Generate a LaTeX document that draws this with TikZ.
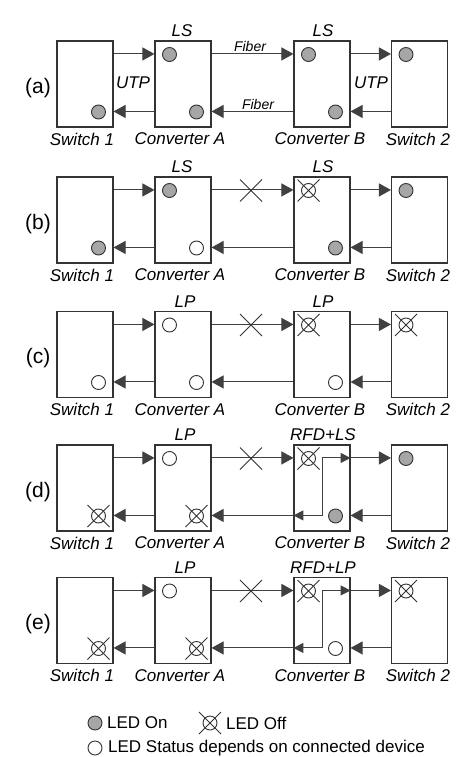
\documentclass[tikz,border=0pt]{standalone}
\usepackage{fontspec}
\setmainfont{Liberation Sans}
\usetikzlibrary{arrows.meta,calc}
\tikzset{
 box/.style={draw=black!80, line width=1.1pt, minimum width=56pt, minimum height=86pt, inner sep=0pt, fill=white},
 arr/.style={draw=black!75, line width=1pt, -{Triangle[length=12pt,width=13pt]}},
 inarr/.style={draw=black!75, line width=1pt, {Triangle[length=10pt,width=10pt]}-{Triangle[length=10pt,width=10pt]}},
 ledon/.style={circle, draw=black!80, line width=0.9pt, fill=black!35, minimum size=14pt, inner sep=0pt},
 ledst/.style={circle, draw=black!80, line width=0.9pt, fill=white, minimum size=14pt, inner sep=0pt},
 lbl/.style={font=\fontsize{17}{17}\selectfont\itshape, inner sep=0pt},
 sml/.style={font=\fontsize{14}{14}\selectfont\itshape, inner sep=0pt},
 plbl/.style={font=\fontsize{21}{21}\selectfont, inner sep=0pt},
 leg/.style={font=\fontsize{17}{17}\selectfont, anchor=west, inner sep=0pt},
 xline/.style={draw=black!80, line width=0.8pt},
 ledoff/.pic={\node[ledst] (-c) {}; \draw[xline] (-11,-11) -- (11,11) (-11,11) -- (11,-11);}
}
% #1 id, #2 top, #3 letter
\newcommand\mkpanel[3]{%
 \node[box] (s1#1) at (85,#2+43) {};
 \node[box] (ca#1) at (183,#2+43) {};
 \node[box] (cb#1) at (322,#2+43) {};
 \node[box] (s2#1) at (419.5,#2+43) {};
 \node[plbl] (p#1) at (38,#2+47) {(#3)};
 \node[lbl] (n1#1) at (82,#2+98) {Switch 1};
 \node[lbl] (n2#1) at (180,#2+98) {Converter A};
 \node[lbl] (n3#1) at (320,#2+98) {Converter B};
 \node[lbl] (n4#1) at (418,#2+98) {Switch 2};
 \draw[arr] ($(s1#1.north east)+(0,13.5)$) -- ($(ca#1.north west)+(0,13.5)$);
 \draw[arr] ($(ca#1.north east)+(0,13.5)$) -- ($(cb#1.north west)+(0,13.5)$);
 \draw[arr] ($(cb#1.north east)+(0,13.5)$) -- ($(s2#1.north west)+(0,13.5)$);
 \draw[arr] ($(ca#1.north west)+(0,71)$) -- ($(s1#1.north east)+(0,71)$);
 \draw[arr] ($(cb#1.north west)+(0,71)$) -- ($(ca#1.north east)+(0,71)$);
 \draw[arr] ($(s2#1.north west)+(0,71)$) -- ($(cb#1.north east)+(0,71)$);
}
\newcommand\brk[1]{\draw[xline] (240,#1+2.5) -- (262,#1+24.5) (240,#1+24.5) -- (262,#1+2.5);}
\newcommand\rfd[1]{\draw[inarr] ($(cb#1.north west)+(0,71)$) -| ($(cb#1.north)+(0,13.5)$) -- ($(cb#1.north east)+(0,13.5)$);}
\begin{document}
\begin{tikzpicture}[x=1pt,y=-1pt]
\useasboundingbox[fill=white] (0,0) rectangle (458,757);
% (a)
\mkpanel{a}{41}{a}
\node[ledon] (a1) at (98.5,112) {};
\node[ledon] (a2) at (169.5,54.5) {};
\node[ledon] (a3) at (196.5,112) {};
\node[ledon] (a4) at (308.5,54.5) {};
\node[ledon] (a5) at (335.5,112) {};
\node[ledon] (a6) at (406,54.5) {};
\node[lbl] (ta1) at (182,31) {LS};
\node[lbl] (ta2) at (323,31) {LS};
\node[sml] (fa1) at (250,46) {Fiber};
\node[sml] (fa2) at (258,104) {Fiber};
\node[lbl] (ua1) at (133,83) {UTP};
\node[lbl] (ua2) at (371,83) {UTP};
% (b)
\mkpanel{b}{177}{b}
\brk{177}
\node[ledon] (b1) at (98.5,248) {};
\node[ledon] (b2) at (169.5,190.5) {};
\node[ledst] (b3) at (196.5,248) {};
\pic (b4) at (308.5,190.5) {ledoff};
\node[ledon] (b5) at (335.5,248) {};
\node[ledon] (b6) at (406,190.5) {};
\node[lbl] (tb1) at (182,167) {LS};
\node[lbl] (tb2) at (323,167) {LS};
% (c)
\mkpanel{c}{311.5}{c}
\brk{311.5}
\node[ledst] (c1) at (98.5,382.5) {};
\node[ledst] (c2) at (169.5,325) {};
\node[ledst] (c3) at (196.5,382.5) {};
\pic (c4) at (308.5,325) {ledoff};
\node[ledst] (c5) at (335.5,382.5) {};
\pic (c6) at (406,325) {ledoff};
\node[lbl] (tc1) at (185,301.5) {LP};
\node[lbl] (tc2) at (323,301.5) {LP};
% (d)
\mkpanel{d}{445}{d}
\brk{445}
\rfd{d}
\pic (d1) at (98.5,516) {ledoff};
\node[ledst] (d2) at (169.5,458.5) {};
\pic (d3) at (196.5,516) {ledoff};
\pic (d4) at (308.5,458.5) {ledoff};
\node[ledon] (d5) at (335.5,516) {};
\node[ledon] (d6) at (406,458.5) {};
\node[lbl] (td1) at (185,435) {LP};
\node[lbl] (td2) at (323,435) {RFD+LS};
% (e)
\mkpanel{e}{577.5}{e}
\brk{577.5}
\rfd{e}
\pic (e1) at (98.5,648.5) {ledoff};
\node[ledst] (e2) at (169.5,591) {};
\pic (e3) at (196.5,648.5) {ledoff};
\pic (e4) at (308.5,591) {ledoff};
\node[ledst] (e5) at (335.5,648.5) {};
\pic (e6) at (406,591) {ledoff};
\node[lbl] (te1) at (185,567.5) {LP};
\node[lbl] (te2) at (323,567.5) {RFD+LP};
% legend
\node[ledon] (g1) at (95,723) {};
\node[leg] (g1t) at (107,723) {LED On};
\pic (g2) at (210,723) {ledoff};
\node[leg] (g2t) at (226,723) {LED Off};
\node[ledst] (g3) at (95,748) {};
\node[leg] (g3t) at (108,748) {LED Status depends on connected device};
\end{tikzpicture}
\end{document}
